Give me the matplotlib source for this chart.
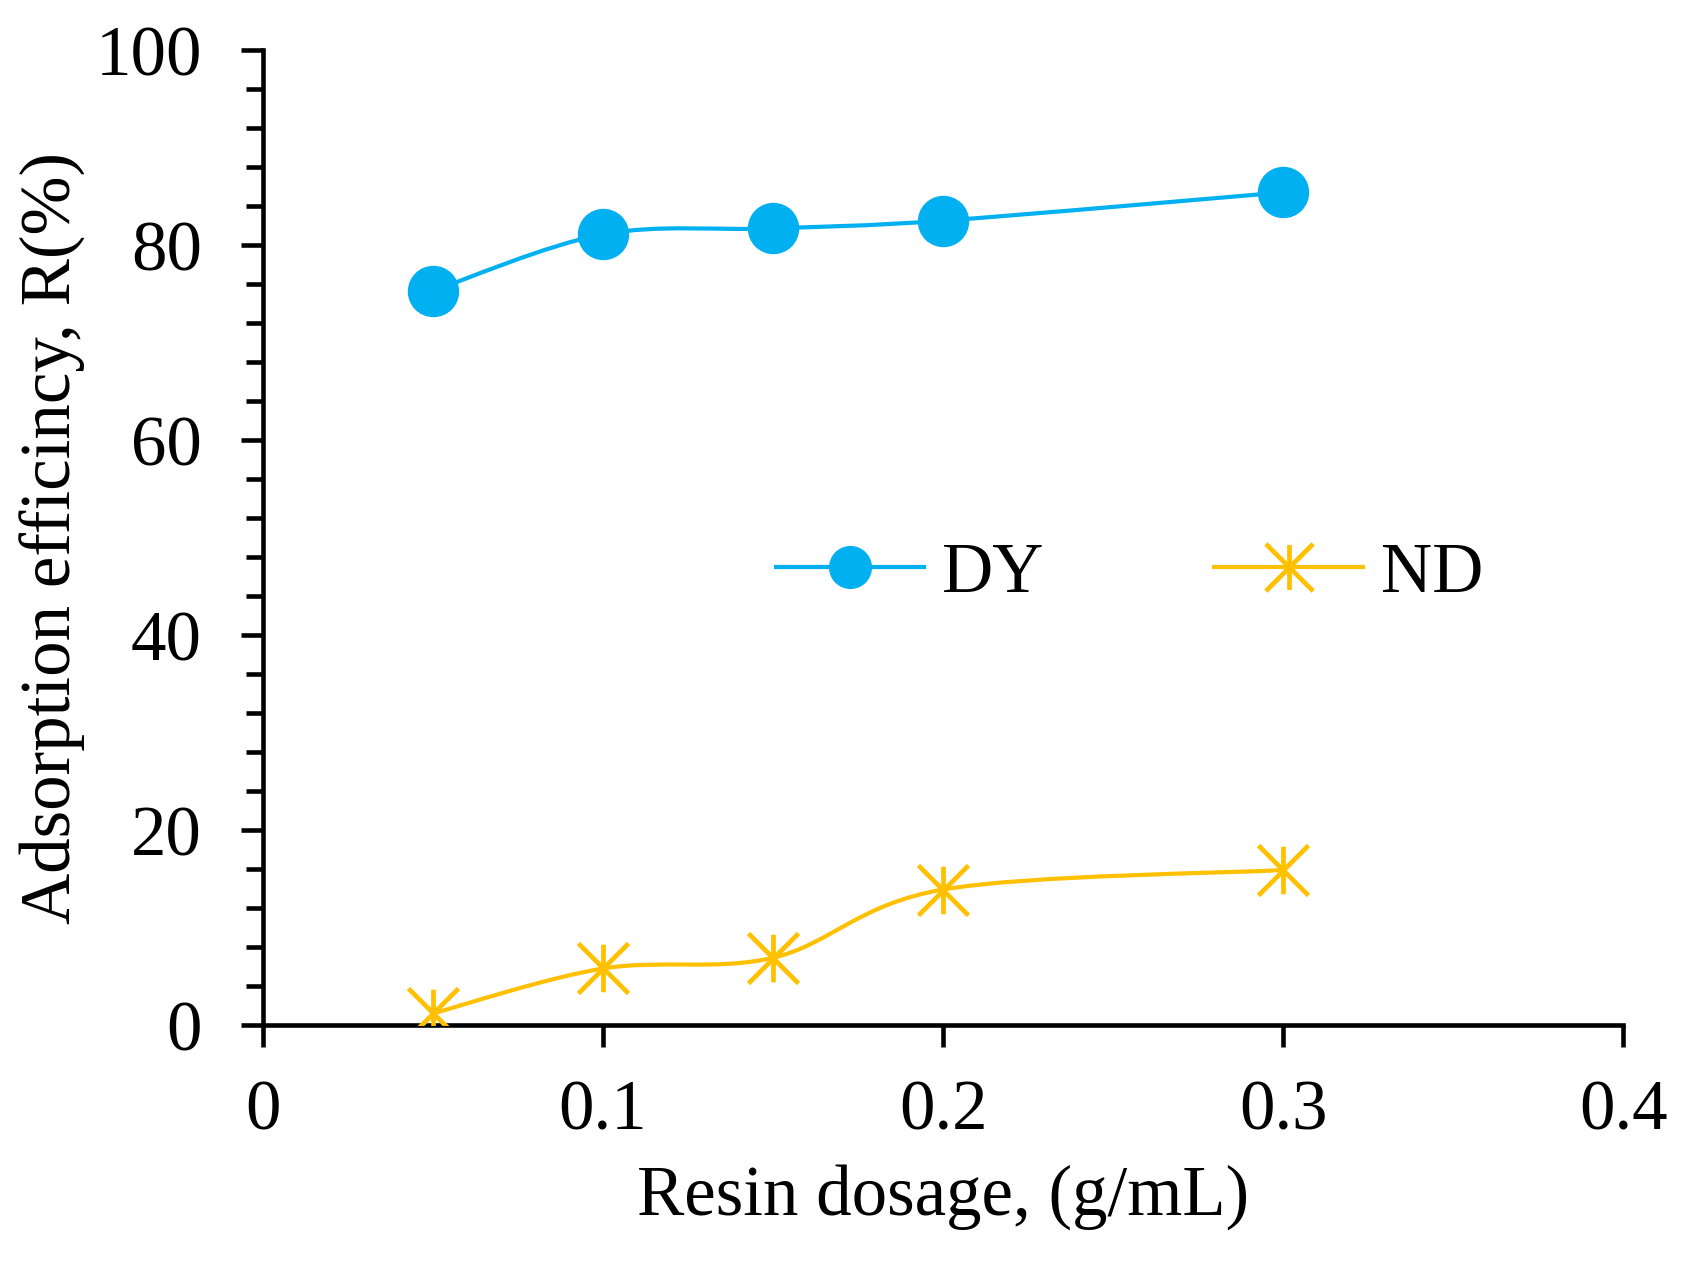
import matplotlib
matplotlib.use("Agg")
import matplotlib.pyplot as plt
import numpy as np
from matplotlib.path import Path
from matplotlib.patches import PathPatch
from matplotlib.lines import Line2D
from matplotlib.ticker import MultipleLocator

dosage = [0.05, 0.1, 0.15, 0.2, 0.3]
dy = [75.3, 81.1, 81.7, 82.5, 85.4]
nd = [1.2, 5.8, 6.9, 13.9, 15.9]

plt.rcParams['font.family'] = ['Liberation Serif', 'DejaVu Serif']
plt.rcParams['font.size'] = 51

blue = '#00B0F0'
gold = '#FFC000'

# six-armed asterisk marker (vertical + two diagonals)
star = Path([(0, -0.95), (0, 0.95), (-1, -1), (1, 1), (-1, 1), (1, -1)],
            [Path.MOVETO, Path.LINETO, Path.MOVETO, Path.LINETO, Path.MOVETO, Path.LINETO])


def smooth_path(x, y):
    # Excel-style smoothed line: cubic bezier with Catmull-Rom control points
    pts = np.column_stack([x, y]).astype(float)
    n = len(pts)
    verts = [pts[0]]
    codes = [Path.MOVETO]
    for i in range(n - 1):
        p0 = pts[max(i - 1, 0)]
        p1 = pts[i]
        p2 = pts[i + 1]
        p3 = pts[min(i + 2, n - 1)]
        c1 = p1 + (p2 - p0) / 6.0
        c2 = p2 - (p3 - p1) / 6.0
        verts += [c1, c2, p2]
        codes += [Path.CURVE4] * 3
    return Path(verts, codes)


fig = plt.figure(figsize=(16.9, 12.63), dpi=100)
ax = fig.add_axes([0.1556, 0.1884, 0.8048, 0.772])

ax.add_patch(PathPatch(smooth_path(dosage, dy), fill=False, edgecolor=blue, lw=3, zorder=2))
ax.add_patch(PathPatch(smooth_path(dosage, nd), fill=False, edgecolor=gold, lw=3, zorder=2))
ax.plot(dosage, dy, linestyle='none', marker='o', markersize=36, color=blue, zorder=3)
ax.plot(dosage, nd, linestyle='none', marker=star, markersize=36, markeredgewidth=3.4,
        color=gold, zorder=3)

ax.set_xlim(0, 0.4)
ax.set_ylim(0, 100)
ax.yaxis.set_major_locator(MultipleLocator(20))
ax.yaxis.set_minor_locator(MultipleLocator(4))
ax.set_xticks([0, 0.1, 0.2, 0.3, 0.4])
ax.set_xticklabels(['0', '0.1', '0.2', '0.3', '0.4'])

for s in ['top', 'right']:
    ax.spines[s].set_visible(False)
for s in ['left', 'bottom']:
    ax.spines[s].set_linewidth(3.3)
ax.tick_params(which='major', direction='out', length=16, width=3.3)
ax.tick_params(which='minor', direction='out', length=12, width=3.3)
ax.tick_params(axis='y', which='major', pad=28)
ax.tick_params(axis='x', which='major', pad=23)
ax.tick_params(axis='x', which='minor', length=0)

ax.set_xlabel('Resin dosage, (g/mL)', labelpad=14)
ax.set_ylabel('Adsorption efficincy, R(%)', labelpad=7)

handles = [
    Line2D([], [], color=blue, lw=3, marker='o', markersize=30),
    Line2D([], [], color=gold, lw=3, marker=star, markersize=34, markeredgewidth=3.4),
]
ax.legend(handles, ['DY', 'ND'], ncol=2, frameon=False, handlelength=2.1,
          handletextpad=0.25, columnspacing=2.4, loc='center',
          bbox_to_anchor=(0.637, 0.462))

fig.savefig('out.png', dpi=100)
